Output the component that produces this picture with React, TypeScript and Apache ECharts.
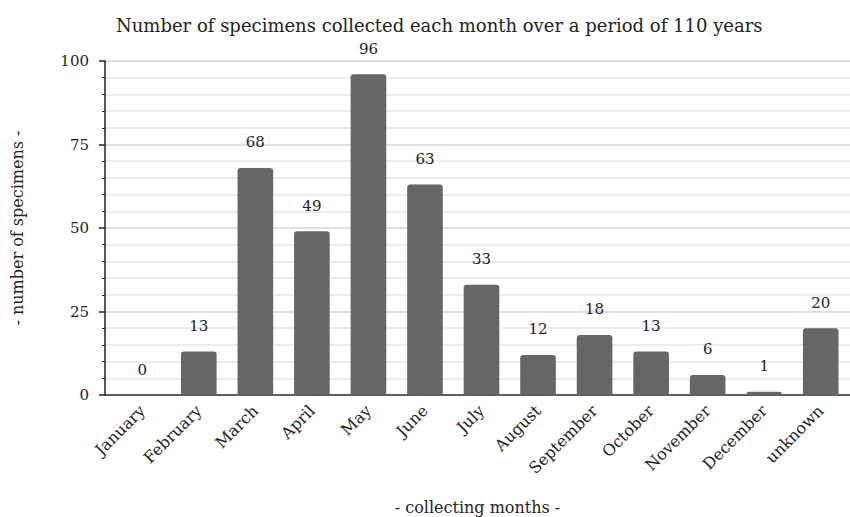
import React, { useEffect, useRef } from "react";
import * as echarts from "echarts";

const categories = [
  "January", "February", "March", "April", "May", "June", "July",
  "August", "September", "October", "November", "December", "unknown",
];
const specimens = [0, 13, 68, 49, 96, 63, 33, 12, 18, 13, 6, 1, 20];
const yMin = 0;
const yMax = 100;
const yInterval = 25;

const FONT = "DejaVu Serif";

export default function App() {
  const ref = useRef<HTMLDivElement>(null);
  useEffect(() => {
    if (!ref.current) return;
    const chart = echarts.init(ref.current, null, { renderer: "svg" });
    chart.setOption({
      animation: false,
      textStyle: { fontFamily: FONT },
      title: {
        text: "Number of specimens collected each month over a period of 110 years",
        left: 111,
        top: 11,
        textStyle: { fontFamily: FONT, fontSize: 18, fontWeight: "normal", color: "#222" },
      },
      grid: [
        { left: 105, right: 0, top: 61, bottom: 122, outerBoundsMode: "none", containLabel: false },
        { left: 114, right: 1, top: 61, bottom: 122, outerBoundsMode: "none", containLabel: false },
      ],
      xAxis: [
        {
          type: "value",
          gridIndex: 0,
          min: 0,
          max: 1,
          axisLine: { show: true, onZero: false, lineStyle: { color: "#333", width: 1.5 } },
          axisTick: { show: false },
          axisLabel: { show: false },
          splitLine: { show: false },
          name: "- collecting months -",
          nameLocation: "middle",
          nameGap: 104,
          nameTextStyle: { fontFamily: FONT, fontSize: 16, color: "#222" },
        },
        {
          type: "category",
          gridIndex: 1,
          data: categories,
          axisLine: { show: false },
          axisTick: { show: false },
          axisLabel: {
            rotate: 45,
            interval: 0,
            margin: 13,
            fontFamily: FONT,
            fontSize: 16,
            color: "#222",
          },
        },
      ],
      yAxis: [
        {
          type: "value",
          gridIndex: 0,
          min: yMin,
          max: yMax,
          interval: yInterval,
          axisLine: { show: true, lineStyle: { color: "#222", width: 1.5 } },
          axisTick: { show: true, length: 6, lineStyle: { color: "#222", width: 1.5 } },
          minorTick: { show: true, splitNumber: 5, length: 3, lineStyle: { color: "#222", width: 1 } },
          axisLabel: { margin: 16, fontFamily: FONT, fontSize: 15, color: "#222" },
          splitLine: { show: true, lineStyle: { color: "#d4d4d4", width: 1.5 } },
          minorSplitLine: { show: true, lineStyle: { color: "#e6e6e6", width: 1.5 } },
          name: "- number of specimens -",
          nameLocation: "middle",
          nameGap: 80,
          nameTextStyle: { fontFamily: FONT, fontSize: 16, color: "#222" },
        },
        {
          type: "value",
          gridIndex: 1,
          min: yMin,
          max: yMax,
          show: false,
          splitLine: { show: false },
        },
      ],
      series: [
        {
          type: "bar",
          xAxisIndex: 1,
          yAxisIndex: 1,
          data: specimens,
          barWidth: "63%",
          itemStyle: {
            color: "#666666",
            borderRadius: [3, 3, 0, 0],
          },
          label: {
            show: true,
            position: "top",
            distance: 18,
            fontFamily: FONT,
            fontSize: 15,
            color: "#222",
          },
        },
      ],
    });
    return () => chart.dispose();
  }, []);
  return (
    <div
      ref={ref}
      style={{ position: "absolute", left: 0, top: 0, width: 850, height: 517 }}
    />
  );
}
